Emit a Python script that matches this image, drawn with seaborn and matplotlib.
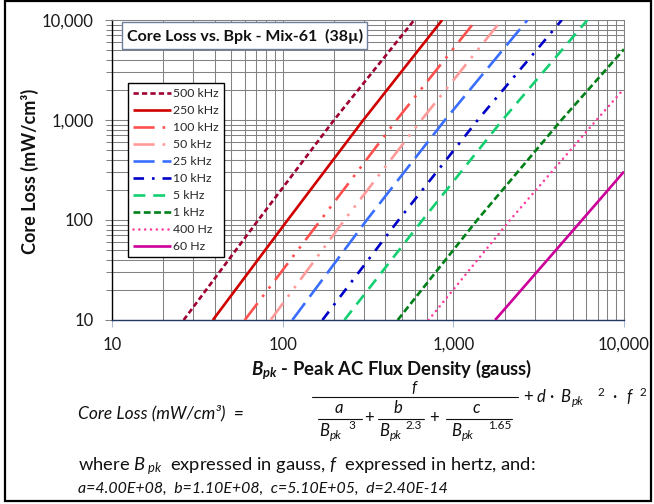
import numpy as np
import pandas as pd
import matplotlib
matplotlib.use("Agg")
import matplotlib.pyplot as plt
import seaborn as sns
from matplotlib.ticker import LogLocator, FuncFormatter, NullFormatter, FixedLocator
from matplotlib.lines import Line2D
from matplotlib.patches import Rectangle

# ---------------- data ----------------
series_labels = ["500 kHz", "250 kHz", "100 kHz", "50 kHz", "25 kHz",
                 "10 kHz", "5 kHz", "1 kHz", "400 Hz", "60 Hz"]

bpk_500k = [26.3, 72, 200, 590];    loss_500k = [10, 100, 1000, 10000]
bpk_250k = [39, 107, 297, 860];     loss_250k = [10, 100, 1000, 10000]
bpk_100k = [60, 167, 465, 1360];    loss_100k = [10, 100, 1000, 10000]
bpk_50k = [85, 230, 650, 1920];     loss_50k = [10, 100, 1000, 10000]
bpk_25k = [114, 311, 893, 2720];    loss_25k = [10, 100, 1000, 10000]
bpk_10k = [171, 478, 1390, 4320];   loss_10k = [10, 100, 1000, 10000]
bpk_5k = [230, 660, 1940, 6100];    loss_5k = [10, 100, 1000, 10000]
bpk_1k = [472, 1380, 4300, 10000];  loss_1k = [10, 100, 1000, 5100]
bpk_400 = [716, 2150, 6900, 10000]; loss_400 = [10, 100, 1000, 2050]
bpk_60 = [1758, 5680, 10000];       loss_60 = [10, 100, 305]

x_ticks = [10, 100, 1000, 10000]
y_ticks = [10, 100, 1000, 10000]

bpk_all = [bpk_500k, bpk_250k, bpk_100k, bpk_50k, bpk_25k,
           bpk_10k, bpk_5k, bpk_1k, bpk_400, bpk_60]
loss_all = [loss_500k, loss_250k, loss_100k, loss_50k, loss_25k,
            loss_10k, loss_5k, loss_1k, loss_400, loss_60]

# ---------------- styles ----------------
colors = ["#A00030", "#D00000", "#FF5050", "#FF9A9A", "#3A6EFF",
          "#0000C8", "#12D070", "#008018", "#FF3FA0", "#CC0099"]
styles = [(0, (2.0, 1.2)), "-", (0, (8, 3, 1, 3, 1, 3)), (0, (8, 3, 1, 3, 1, 3)),
          (0, (8, 3)), (0, (4, 3, 1, 3)), (0, (4.5, 3)), (0, (2.6, 1.3)),
          (0, (0.01, 2.2)), "-"]

W, H = 654, 504
sns.set_theme(style="white")
plt.rcParams["font.family"] = ["Lato", "DejaVu Sans"]
plt.rcParams["mathtext.fontset"] = "custom"
plt.rcParams["mathtext.rm"] = "Lato"
plt.rcParams["mathtext.it"] = "Lato:italic"
plt.rcParams["mathtext.bf"] = "Lato:bold"
plt.rcParams["mathtext.bfit"] = "Lato:italic:bold"

fig = plt.figure(figsize=(W / 100, H / 100), dpi=100)
fig.patch.set_facecolor("white")
ax = fig.add_axes([112 / W, 1 - 320 / H, 512 / W, 300 / H])

rows = []
for lab, bs, ls in zip(series_labels, bpk_all, loss_all):
    for b, l in zip(bs, ls):
        rows.append({"Bpk": b, "loss": l, "freq": lab})
df = pd.DataFrame(rows)

for i, lab in enumerate(series_labels):
    sub = df[df["freq"] == lab]
    sns.lineplot(data=sub, x="Bpk", y="loss", ax=ax, color=colors[i],
                 linestyle=styles[i], lw=1.9, label=lab, sort=False,
                 estimator=None, zorder=3)

for i, ln in enumerate(ax.get_lines()):
    ln.set_dash_capstyle("round" if series_labels[i] == "400 Hz" else "butt")
    ln.set_solid_capstyle("butt")

ax.set_xscale("log")
ax.set_yscale("log")
ax.set_xlim(10, 10000)
ax.set_ylim(10, 10000)
ax.set_xlabel("")
ax.set_ylabel("")

fmt = FuncFormatter(lambda v, p: f"{v:,.0f}")
ax.xaxis.set_major_locator(FixedLocator(x_ticks))
ax.yaxis.set_major_locator(FixedLocator(y_ticks))
ax.xaxis.set_major_formatter(fmt)
ax.yaxis.set_major_formatter(fmt)
ax.xaxis.set_minor_locator(LogLocator(base=10, subs=np.arange(2, 10), numticks=20))
ax.yaxis.set_minor_locator(LogLocator(base=10, subs=np.arange(2, 10), numticks=20))
ax.xaxis.set_minor_formatter(NullFormatter())
ax.yaxis.set_minor_formatter(NullFormatter())

ax.grid(which="both", color="#828282", lw=0.75)
ax.set_axisbelow(True)

ax.tick_params(axis="y", which="major", direction="out", length=5, width=0.75,
               color="#828282", labelsize=12, labelcolor="#1a1a1a", pad=8, left=True)
ax.tick_params(axis="y", which="minor", direction="out", length=4, width=0.75,
               color="#828282", left=True)
ax.tick_params(axis="x", which="major", direction="out", length=5, width=0.75,
               color="#a8b8d0", labelsize=12, labelcolor="#1a1a1a", pad=7, bottom=True)
ax.tick_params(axis="x", which="minor", length=0)

for s in ["top", "right"]:
    ax.spines[s].set_color("#828282")
    ax.spines[s].set_linewidth(0.75)
ax.spines["left"].set_color("black")
ax.spines["left"].set_linewidth(1.0)
ax.spines["bottom"].set_color("#1f3864")
ax.spines["bottom"].set_linewidth(1.0)

# legend
leg = ax.legend(handles=ax.get_lines(), labels=series_labels, loc="upper left",
                bbox_to_anchor=(128 / W, 1 - 83 / H), bbox_transform=fig.transFigure,
                borderaxespad=0, frameon=True, fancybox=False, framealpha=1,
                edgecolor="black", fontsize=8.8, handlelength=3.1,
                handletextpad=0.2, labelspacing=0.49, borderpad=0.4)
leg.get_frame().set_linewidth(1.0)
leg.set_zorder(5)

# title box
fig.add_artist(Rectangle((122 / W, 1 - 49 / H), 245 / W, 27 / H, transform=fig.transFigure,
                         facecolor="white", edgecolor="#6d7f9c", lw=1.0, zorder=6))
fig.text(245 / W, 1 - 36 / H, "Core Loss vs. Bpk - Mix-61  (38\u00b5)", ha="center",
         va="center", fontsize=11.5, fontweight="bold", color="#111111", zorder=7)

# axis titles
fig.text(30 / W, 1 - 171 / H, "Core Loss (mW/cm\u00b3)", rotation=90, ha="center",
         va="center", fontsize=13, fontweight="bold", color="#111111")
fig.text(392 / W, 1 - 370 / H, r"$\mathbfit{B}_{\mathbfit{pk}}$ - Peak AC Flux Density (gauss)",
         ha="center", va="center", fontsize=13.3, fontweight="bold", color="#111111")


# ---------------- formula text ----------------
def T(x, y, s, size=12, style="italic", ha="left"):
    fig.text(x / W, 1 - y / H, s, ha=ha, va="baseline", fontsize=size,
             fontstyle=style, color="#111111")


def HL(x0, x1, y, lw=0.8):
    fig.add_artist(Line2D([x0 / W, x1 / W], [1 - y / H, 1 - y / H],
                          transform=fig.transFigure, color="#111111", lw=lw))


T(78, 418, "Core Loss (mW/cm\u00b3)  =", size=12.5)
T(414, 392, "f", ha="center", size=11.5)
HL(312, 518, 397)
# a / Bpk^3
T(339, 413, "a", ha="center")
HL(318, 362, 419)
T(319, 436, "B")
T(330, 439, "pk", size=8.5)
T(348, 429, "3", size=8.5, style="normal")
T(369, 423, "+", style="normal", ha="center")
# b / Bpk^2.3
T(398, 413, "b", ha="center")
HL(378, 424, 419)
T(379, 436, "B")
T(390, 439, "pk", size=8.5)
T(406, 429, "2.3", size=8.5, style="normal")
T(434, 423, "+", style="normal", ha="center")
# c / Bpk^1.65
T(476, 413, "c", ha="center")
HL(446, 512, 419)
T(451, 436, "B")
T(462, 439, "pk", size=8.5)
T(488, 429, "1.65", size=8.5, style="normal")
# + d Bpk^2 f^2
T(523, 402, "+", style="normal")
T(537, 402, "d")
T(549, 402, "\u00b7", style="normal")
T(560, 402, "B")
T(572, 405, "pk", size=8.5)
T(598, 396, "2", size=8.5, style="normal")
T(612, 402, "\u00b7", style="normal")
T(626, 402, "f")
T(640, 396, "2", size=8.5, style="normal")

fig.text(78 / W, 1 - 470 / H,
         r"where $B_{\;pk}$  expressed in gauss, $f$  expressed in hertz, and:",
         ha="left", va="baseline", fontsize=13.2, color="#111111")
T(78, 493, "a=4.00E+08,  b=1.10E+08,  c=5.10E+05,  d=2.40E-14", size=11.4)

# outer border
fig.add_artist(Rectangle((4.5 / W, 1 - 500.5 / H), 646 / W, 500 / H, transform=fig.transFigure,
                         facecolor="none", edgecolor="black", lw=1.6))

fig.savefig("out.png", dpi=100, facecolor="white")
